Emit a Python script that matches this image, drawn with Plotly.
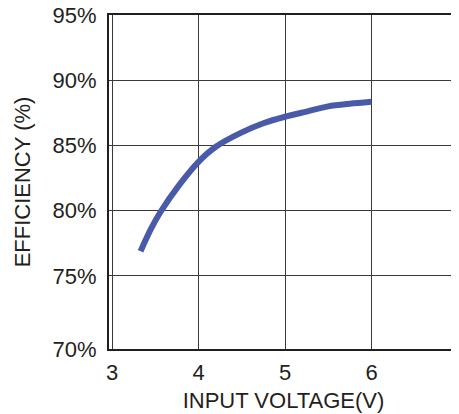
import plotly.graph_objects as go

voltage = [3.33, 3.45, 3.56, 3.78, 4.0, 4.2, 4.5, 4.75, 5.0, 5.25, 5.5, 5.75, 6.0]
efficiency = [76.9, 78.6, 79.9, 82.0, 83.75, 84.9, 86.0, 86.7, 87.2, 87.6, 88.0, 88.2, 88.35]

x_ticks = [3, 4, 5, 6, 7]
y_ticks = [70, 75, 80, 85, 90, 95]
y_tick_text = ["70%", "75%", "80%", "85%", "90%", "95%"]

FONT = "Liberation Sans, Arial, sans-serif"

fig = go.Figure()
fig.add_trace(go.Scatter(
    x=voltage, y=efficiency, mode="lines",
    line=dict(color="#485aa8", width=6, shape="spline", smoothing=0.8),
    showlegend=False, hoverinfo="skip",
))

# page body has an 8px margin, so the figure is sized/offset to compensate
y_min = 69.4
fig.update_layout(
    width=451, height=406,
    margin=dict(l=101, r=1, t=7, b=65, autoexpand=False),
    paper_bgcolor="white", plot_bgcolor="white",
    font=dict(family=FONT, size=22, color="#231f20"),
    xaxis=dict(
        range=[2.965, 7.0], tickvals=x_ticks, ticktext=[str(t) for t in x_ticks],
        showgrid=True, gridcolor="#3a3a3a", gridwidth=1,
        showline=True, linecolor="#231f20", linewidth=2, mirror=True,
        zeroline=False, ticks="", ticklabelstandoff=3, automargin=False,
        ticklabeloverflow="allow",
        title=dict(text="INPUT VOLTAGE(V)", standoff=8, font=dict(size=22)),
    ),
    yaxis=dict(
        range=[y_min, 95.0],
        tickvals=[y_min] + y_ticks[1:], ticktext=y_tick_text,
        showgrid=True, gridcolor="#3a3a3a", gridwidth=1,
        showline=True, linecolor="#231f20", linewidth=2, mirror=True,
        zeroline=False, ticks="", ticklabelstandoff=6, automargin=False,
        ticklabeloverflow="allow",
        title=dict(text="EFFICIENCY (%)", standoff=16, font=dict(size=22)),
    ),
)

fig.write_html("out.html")
